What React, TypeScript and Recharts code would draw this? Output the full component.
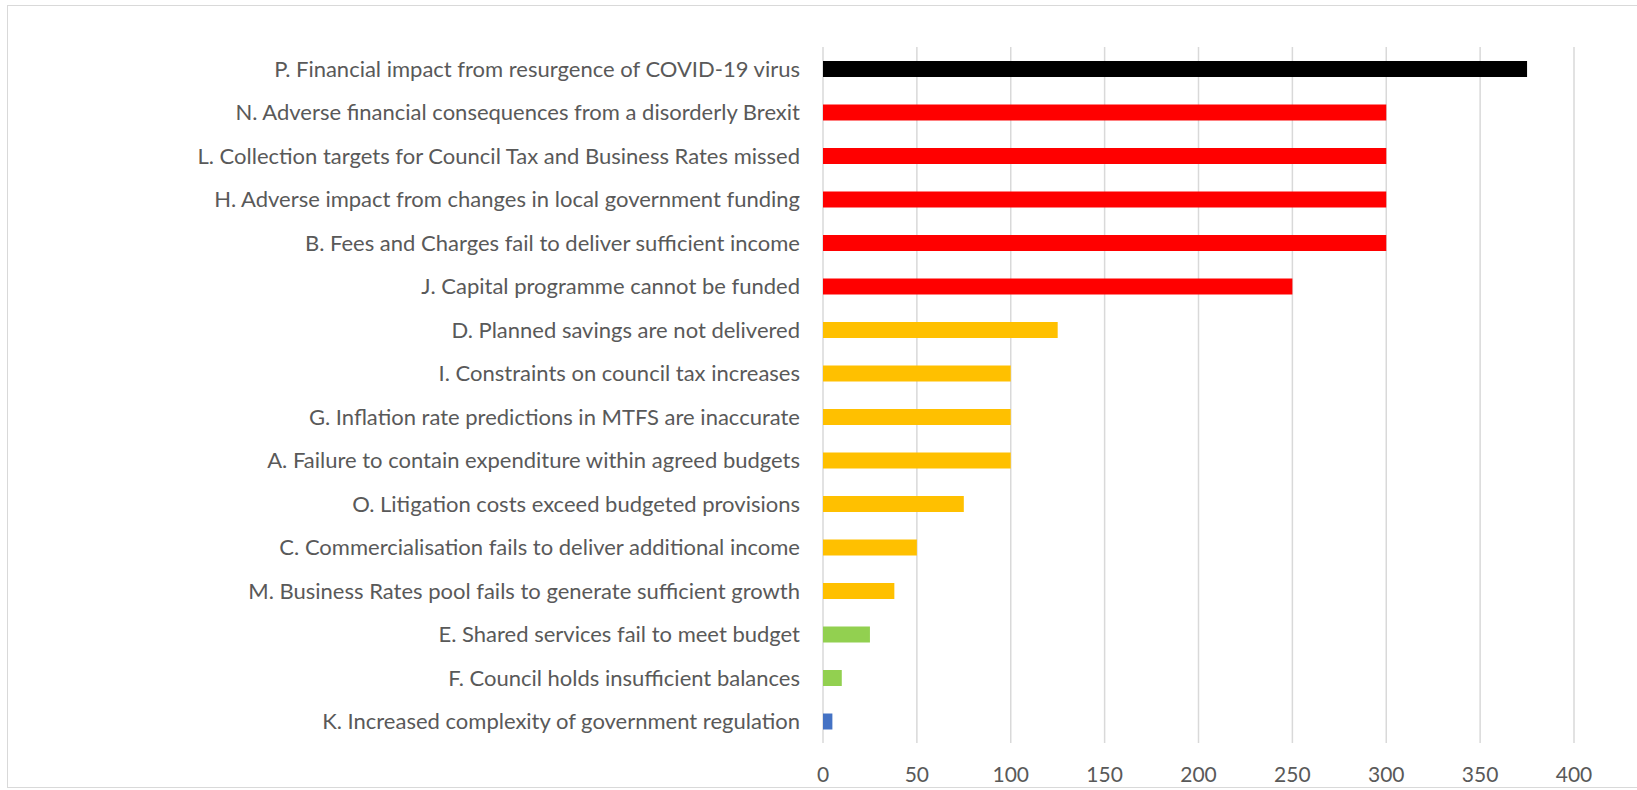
import React from 'react';
import { BarChart, Bar, Cell, XAxis, YAxis, CartesianGrid } from 'recharts';

// risk categories, top to bottom
const risks = [
  'P. Financial impact from resurgence of COVID-19 virus',
  'N. Adverse financial consequences from a disorderly Brexit',
  'L. Collection targets for Council Tax and Business Rates missed',
  'H. Adverse impact from changes in local government funding',
  'B. Fees and Charges fail to deliver sufficient income',
  'J. Capital programme cannot be funded',
  'D. Planned savings are not delivered',
  'I. Constraints on council tax increases',
  'G. Inflation rate predictions in MTFS are inaccurate',
  'A. Failure to contain expenditure within agreed budgets',
  'O. Litigation costs exceed budgeted provisions',
  'C. Commercialisation fails to deliver additional income',
  'M. Business Rates pool fails to generate sufficient growth',
  'E. Shared services fail to meet budget',
  'F. Council holds insufficient balances',
  'K. Increased complexity of government regulation',
];

const scores = [375, 300, 300, 300, 300, 250, 125, 100, 100, 100, 75, 50, 38, 25, 10, 5];

// rating per risk: black / red / amber / green / blue
const ratings = [
  'black', 'red', 'red', 'red', 'red', 'red',
  'amber', 'amber', 'amber', 'amber', 'amber', 'amber', 'amber',
  'green', 'green', 'blue',
];

const xTicks = [0, 50, 100, 150, 200, 250, 300, 350, 400];

const ratingColors: Record<string, string> = {
  black: '#000000',
  red: '#FF0000',
  amber: '#FFC000',
  green: '#92D050',
  blue: '#4472C4',
};

const data = risks.map((name, i) => ({ name, score: scores[i], rating: ratings[i] }));

const font = 'Lato, "Open Sans", sans-serif';

export default function App() {
  return (
    <div style={{ position: 'relative', width: 1637, height: 790, overflow: 'hidden', background: '#fff' }}>
      <style>{'body{margin:0}'}</style>
      <div
        style={{
          position: 'absolute',
          left: 7,
          top: 5,
          width: 1650,
          height: 781,
          border: '1px solid #D9D9D9',
        }}
      />
      <div style={{ position: 'absolute', left: 0, top: 0 }}>
        <BarChart
          layout="vertical"
          width={1637}
          height={790}
          data={data}
          margin={{ top: 47, right: 63, left: 0, bottom: 7 }}
        >
          <CartesianGrid horizontal={false} stroke="#D9D9D9" strokeWidth={1.5} />
          <XAxis
            type="number"
            domain={[0, 400]}
            ticks={xTicks}
            axisLine={false}
            tickLine={false}
            tickSize={0}
            tickMargin={24}
            height={40}
            tick={{ fill: '#595959', fontSize: 21, fontFamily: font }}
          />
          <YAxis
            type="category"
            dataKey="name"
            width={823}
            interval={0}
            axisLine={false}
            tickLine={false}
            tickSize={0}
            tickMargin={23}
            tick={{ fill: '#595959', fontSize: 22, fontFamily: font }}
          />
          <Bar dataKey="score" barSize={16} isAnimationActive={false}>
            {data.map((d, i) => (
              <Cell key={`cell-${i}`} fill={ratingColors[d.rating]} />
            ))}
          </Bar>
        </BarChart>
      </div>
    </div>
  );
}
